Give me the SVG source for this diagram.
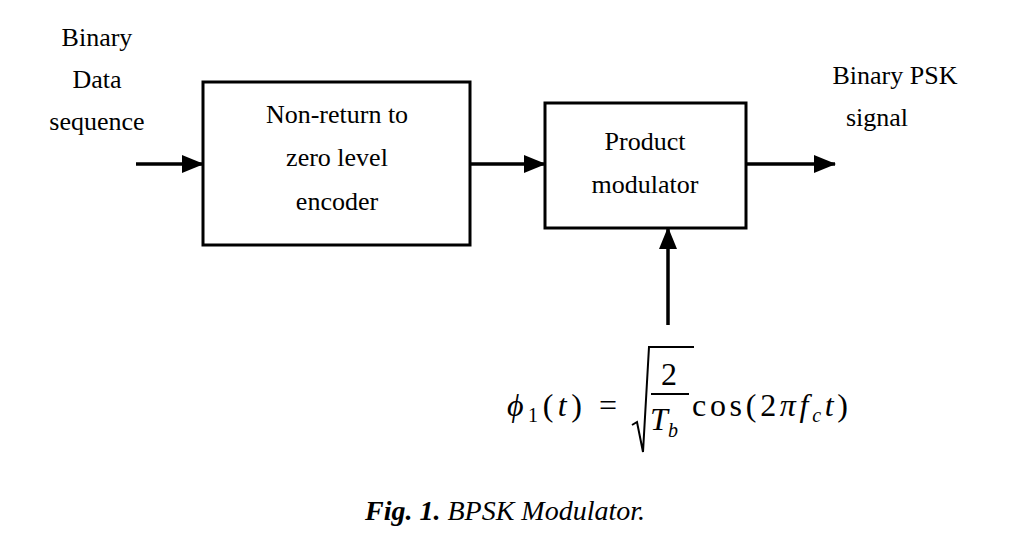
<svg xmlns="http://www.w3.org/2000/svg" width="1010" height="540" viewBox="0 0 1010 540">
<style>
text{font-family:"Liberation Serif","Times New Roman",serif;fill:#000}
.l{font-size:26px;text-anchor:middle}
.m{font-size:32px}
.box{fill:#fff;stroke:#000;stroke-width:3}
.c{stroke:#000;stroke-width:3.5;fill:none}
</style>
<defs><marker id="a" viewBox="0 0 22 18" refX="21" refY="9" markerWidth="22" markerHeight="18" markerUnits="userSpaceOnUse" orient="auto"><path d="M0,0 L22,9 L0,18 Z"/></marker></defs>
<rect width="1010" height="540" fill="#fff"/>
<g id="input"><text class="l" x="97" y="46">Binary</text><text class="l" x="97" y="88">Data</text><text class="l" x="97" y="130">sequence</text></g>
<g id="nrz"><rect class="box" x="203" y="82" width="267" height="163"/><text class="l" x="337" y="123">Non-return to</text><text class="l" x="337" y="166">zero level</text><text class="l" x="337" y="210">encoder</text></g>
<g id="prod"><rect class="box" x="545" y="103" width="201" height="125"/><text class="l" x="645" y="150">Product</text><text class="l" x="645" y="193">modulator</text></g>
<g id="output"><text class="l" x="895" y="84">Binary PSK</text><text class="l" x="877" y="126">signal</text></g>
<g id="carrier">
<text class="m" x="507" y="416" font-style="italic" textLength="110" lengthAdjust="spacing">ϕ<tspan font-size="20" dy="6" font-style="normal">1</tspan><tspan dy="-6" font-style="normal">(</tspan>t<tspan font-style="normal">) =</tspan></text>
<path d="M632,425 L637,422 L643,452 L649,347 L694,347" stroke="#000" stroke-width="2" fill="none"/>
<text class="m" x="669" y="385" text-anchor="middle">2</text>
<line x1="651" y1="394" x2="689" y2="394" stroke="#000" stroke-width="2"/>
<text class="m" x="664" y="430" text-anchor="middle" font-style="italic">T<tspan font-size="20" dy="7">b</tspan></text>
<text class="m" x="692" y="416" textLength="156" lengthAdjust="spacing">cos(2<tspan font-style="italic">π</tspan><tspan font-style="italic">f</tspan><tspan font-size="20" dy="6" font-style="italic">c</tspan><tspan dy="-6" font-style="italic">t</tspan>)</text>
</g>
<g id="connectors">
<line class="c" x1="136" y1="164" x2="203" y2="164" marker-end="url(#a)"/>
<line class="c" x1="470" y1="164" x2="545" y2="164" marker-end="url(#a)"/>
<line class="c" x1="746" y1="164" x2="835" y2="164" marker-end="url(#a)"/>
<line class="c" x1="668" y1="325" x2="668" y2="228" marker-end="url(#a)"/>
</g>
<text x="505" y="520" font-size="28" text-anchor="middle" font-style="italic"><tspan font-weight="bold">Fig. 1.</tspan> BPSK Modulator.</text>
</svg>
